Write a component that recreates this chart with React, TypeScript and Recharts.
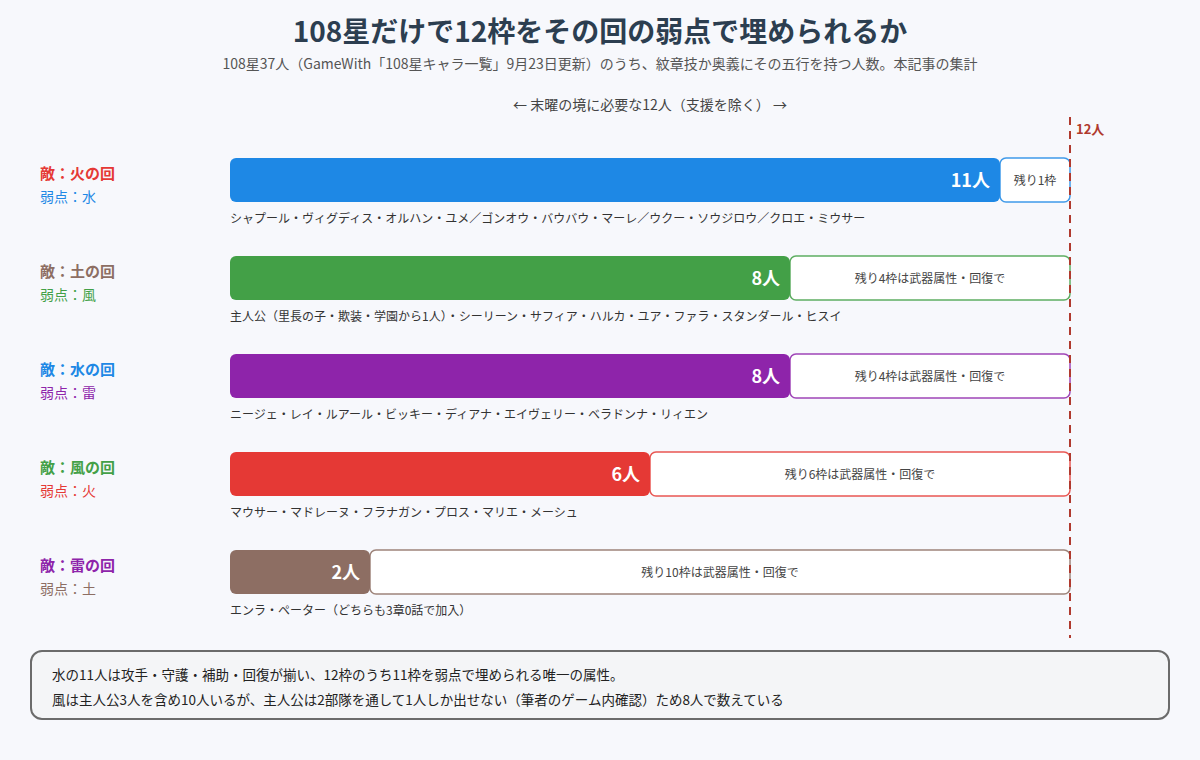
import { BarChart, Bar, XAxis, YAxis, Cell, LabelList, ReferenceLine } from "recharts"

const FONT = '"Noto Sans CJK JP", "Noto Sans", sans-serif'

const TOTAL_SLOTS = 12
const enemies = ["火", "土", "水", "風", "雷"]
const weaknesses = ["水", "風", "雷", "火", "土"]
const counts = [11, 8, 8, 6, 2]
const restLabels = [
  "残り1枠",
  "残り4枠は武器属性・回復で",
  "残り4枠は武器属性・回復で",
  "残り6枠は武器属性・回復で",
  "残り10枠は武器属性・回復で",
]
const members = [
  "シャプール・ヴィグディス・オルハン・ユメ／ゴンオウ・バウバウ・マーレ／ウクー・ソウジロウ／クロエ・ミウサー",
  "主人公（里長の子・欺装・学園から1人）・シーリーン・サフィア・ハルカ・ユア・ファラ・スタンダール・ヒスイ",
  "ニージェ・レイ・ルアール・ビッキー・ディアナ・エイヴェリー・ベラドンナ・リィエン",
  "マウサー・マドレーヌ・フラナガン・プロス・マリエ・メーシュ",
  "エンラ・ペーター（どちらも3章0話で加入）",
]

const elementColors: Record<string, string> = {
  火: "#e53935",
  水: "#1e88e5",
  土: "#8d6e63",
  風: "#43a047",
  雷: "#8e24aa",
}

const data = enemies.map((e, i) => ({
  key: e,
  count: counts[i],
  rest: TOTAL_SLOTS - counts[i],
}))

const LineColor = "#b03a2e"

const EnemyTick = (props: any) => {
  const { y, index } = props
  const e = enemies[index]
  const w = weaknesses[index]
  return (
    <g>
      <text x={40} y={y - 1} fontSize={15} fontWeight={700} fill={elementColors[e]} fontFamily={FONT}>
        敵：{e}の回
      </text>
      <text x={40} y={y + 22} fontSize={14} fill={elementColors[w]} fontFamily={FONT}>
        弱点：{w}
      </text>
    </g>
  )
}

const CountLabel = (props: any) => {
  const { x, y, width, height, value } = props
  return (
    <text
      x={x + width - 10}
      y={y + height / 2 + 7}
      textAnchor="end"
      fontSize={18}
      fontWeight={700}
      fill="#fff"
      fontFamily={FONT}
    >
      {value}人
    </text>
  )
}

const NamesLabel = (props: any) => {
  const { x, y, height, index } = props
  return (
    <text x={x} y={y + height + 21} fontSize={12} fill="#333" fontFamily={FONT}>
      {members[index]}
    </text>
  )
}

const RestLabel = (props: any) => {
  const { x, y, width, height, index } = props
  return (
    <text
      x={x + width / 2}
      y={y + height / 2 + 5}
      textAnchor="middle"
      fontSize={12}
      fill="#444"
      fontFamily={FONT}
    >
      {restLabels[index]}
    </text>
  )
}

const LimitLine = (props: any) => {
  const { x1, y1, y2 } = props
  const top = Math.min(y1, y2)
  const bottom = Math.max(y1, y2)
  return (
    <g>
      <line x1={x1} x2={x1} y1={top - 14} y2={bottom + 17} stroke={LineColor} strokeWidth={2} strokeDasharray="8 6" />
      <text x={x1 + 6} y={top + 3} fontSize={13} fontWeight={700} fill={LineColor} fontFamily={FONT}>
        12人
      </text>
    </g>
  )
}

export default function App() {
  return (
    <div
      style={{
        position: "absolute",
        left: 0,
        top: 0,
        width: 1200,
        height: 760,
        background: "#f7f8fc",
        fontFamily: FONT,
      }}
    >
      <div style={{ position: "absolute", top: 10, width: 1200, textAlign: "center", fontSize: 28, fontWeight: 700, color: "#2c3e50" }}>
        108星だけで12枠をその回の弱点で埋められるか
      </div>
      <div style={{ position: "absolute", top: 53, width: 1200, textAlign: "center", fontSize: 14, color: "#555" }}>
        108星37人（GameWith「108星キャラ一覧」9月23日更新）のうち、紋章技か奥義にその五行を持つ人数。本記事の集計
      </div>
      <div style={{ position: "absolute", top: 94, left: 230, width: 840, textAlign: "center", fontSize: 14, color: "#444" }}>
        ← 末曜の境に必要な12人（支援を除く） →
      </div>

      <div style={{ position: "absolute", left: 0, top: 0 }}>
        <BarChart
          width={1200}
          height={760}
          data={data}
          layout="vertical"
          margin={{ top: 131, right: 130, bottom: 139, left: 0 }}
          barSize={44}
        >
          <XAxis type="number" domain={[0, TOTAL_SLOTS]} hide />
          <YAxis type="category" dataKey="key" width={230} axisLine={false} tickLine={false} tick={<EnemyTick />} />
          <Bar dataKey="count" stackId="a" radius={6} isAnimationActive={false}>
            {data.map((d) => (
              <Cell key={d.key} fill={elementColors[weaknesses[enemies.indexOf(d.key)]]} />
            ))}
            <LabelList dataKey="count" content={<CountLabel />} />
            <LabelList dataKey="count" content={<NamesLabel />} />
          </Bar>
          <Bar dataKey="rest" stackId="a" radius={6} isAnimationActive={false}>
            {data.map((d) => (
              <Cell
                key={d.key}
                fill="#ffffff"
                stroke={elementColors[weaknesses[enemies.indexOf(d.key)]]}
                strokeOpacity={0.85}
                strokeWidth={1.5}
              />
            ))}
            <LabelList dataKey="rest" content={<RestLabel />} />
          </Bar>
          <ReferenceLine x={TOTAL_SLOTS} stroke={LineColor} shape={<LimitLine />} />
        </BarChart>
      </div>

      <div
        style={{
          position: "absolute",
          left: 30,
          top: 650,
          width: 1140,
          height: 70,
          boxSizing: "border-box",
          border: "2px solid #6b6b6b",
          borderRadius: 12,
          background: "#f4f5f7",
          padding: "10px 0 0 20px",
          fontSize: 13.5,
          color: "#222",
          lineHeight: "25px",
        }}
      >
        <div>水の11人は攻手・守護・補助・回復が揃い、12枠のうち11枠を弱点で埋められる唯一の属性。</div>
        <div>風は主人公3人を含め10人いるが、主人公は2部隊を通して1人しか出せない（筆者のゲーム内確認）ため8人で数えている</div>
      </div>
    </div>
  )
}
